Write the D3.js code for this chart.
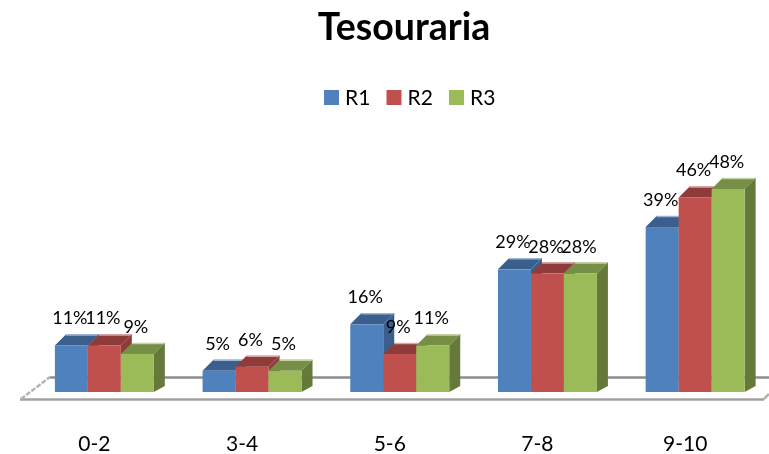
<!DOCTYPE html>
<html>
<head>
<meta charset="utf-8">
<script src="https://cdn.jsdelivr.net/npm/d3@7/dist/d3.min.js"></script>
<style>
  html, body { margin: 0; padding: 0; background: #fff; }
  svg { display: block; filter: blur(0.4px); }
  text { font-family: Lato, "Open Sans", sans-serif; fill: #000; }
</style>
</head>
<body>
<div id="chart"></div>
<script>
// Valores
const categories = ["0-2", "3-4", "5-6", "7-8", "9-10"];
const seriesNames = ["R1", "R2", "R3"];
const r1Values = [11, 5, 16, 29, 39];
const r2Values = [11, 6, 9, 28, 46];
const r3Values = [9, 5, 11, 28, 48];
const seriesValues = [r1Values, r2Values, r3Values];

const frontColors = ["#4f81bd", "#c0504d", "#9bbb59"];
const topColors = ["#3b5f8d", "#8f3b39", "#768e45"];
const sideColors = ["#3b5f8d", "#8f3b39", "#657a3a"];
const edgeColors = ["#9db5d3", "#d9a6a5", "#c5d4a5"];

const width = 769, height = 454;
const baseY = 392;
const depth = 11;

const svg = d3.select("#chart").append("svg")
  .attr("width", width)
  .attr("height", height);

const x = d3.scaleBand().domain(categories).range([30.5, 769]).paddingInner(0.33).paddingOuter(0.165);
const xSeries = d3.scaleBand().domain(seriesNames).range([0, x.bandwidth()]);
const y = d3.scaleLinear().domain([0, 48]).range([baseY, 189]);

// Chao do grafico
const floor = svg.append("g").attr("fill", "none").attr("stroke-width", 2.5);
floor.append("line").attr("x1", 50).attr("y1", 377.5).attr("x2", 769).attr("y2", 377.5).attr("stroke", "#8c8c8c");
floor.append("line").attr("x1", 20).attr("y1", 399.5).attr("x2", 764).attr("y2", 399.5).attr("stroke", "#a0a0a0");
floor.append("line").attr("x1", 21).attr("y1", 399).attr("x2", 50).attr("y2", 377).attr("stroke", "#b4b4b4").attr("stroke-dasharray", "5 1.5");
floor.append("line").attr("x1", 764).attr("y1", 399).attr("x2", 769).attr("y2", 394).attr("stroke", "#b4b4b4");

// Barras 3D
const polygon = pts => pts.map(p => p.join(",")).join(" ");

seriesNames.forEach((name, s) => {
  const g = svg.append("g").attr("class", "series-" + name);
  categories.forEach((cat, i) => {
    const x0 = x(cat) + xSeries(name);
    const x1 = x0 + xSeries.bandwidth();
    const top = y(seriesValues[s][i]);

    g.append("polygon")
      .attr("points", polygon([[x0, top], [x0 + depth, top - depth], [x1 + depth, top - depth], [x1, top]]))
      .attr("fill", topColors[s]);
    g.append("line")
      .attr("x1", x0 + depth).attr("y1", top - depth + 0.5)
      .attr("x2", x1 + depth).attr("y2", top - depth + 0.5)
      .attr("stroke", edgeColors[s]).attr("stroke-width", 1.5);
    g.append("polygon")
      .attr("points", polygon([[x1, top], [x1 + depth, top - depth], [x1 + depth, baseY - depth + 5], [x1, baseY]]))
      .attr("fill", sideColors[s]);
    g.append("rect")
      .attr("x", x0).attr("y", top)
      .attr("width", xSeries.bandwidth()).attr("height", baseY - top)
      .attr("fill", frontColors[s]);
  });
});

// Rotulos de dados
seriesNames.forEach((name, s) => {
  categories.forEach((cat, i) => {
    svg.append("text")
      .attr("x", x(cat) + xSeries(name) + xSeries.bandwidth() / 2 - 1.5)
      .attr("y", y(seriesValues[s][i]) - 21)
      .attr("text-anchor", "middle")
      .attr("font-size", 18)
      .text(seriesValues[s][i] + "%");
  });
});

// Eixo das categorias
const xAxis = d3.axisBottom(x).tickSize(0).tickPadding(0);
const axisG = svg.append("g")
  .attr("transform", "translate(-10,436)")
  .call(xAxis);
axisG.select(".domain").remove();
axisG.selectAll("text").attr("font-size", 21).attr("font-family", "Lato, 'Open Sans', sans-serif").attr("fill", "#000");

// Titulo
svg.append("text")
  .attr("x", 404).attr("y", 40)
  .attr("text-anchor", "middle")
  .attr("font-size", 37.5)
  .attr("font-weight", 700)
  .text("Tesouraria");

// Legenda
const legendX = d3.scalePoint().domain(seriesNames).range([324, 449]);
seriesNames.forEach((name, s) => {
  svg.append("rect")
    .attr("x", legendX(name)).attr("y", 90)
    .attr("width", 15).attr("height", 15)
    .attr("fill", frontColors[s]);
  svg.append("text")
    .attr("x", legendX(name) + 21).attr("y", 105)
    .attr("font-size", 21)
    .text(name);
});
</script>
</body>
</html>
